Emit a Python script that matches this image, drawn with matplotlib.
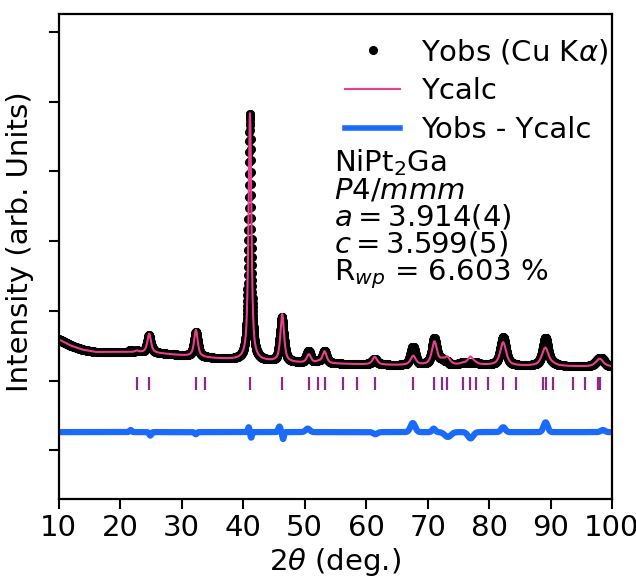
import numpy as np
from matplotlib import pyplot as plt

# reflection positions (2theta, deg) for NiPt2Ga, P4/mmm
refl_pos = [22.70, 24.72, 32.32, 33.81, 41.11, 46.36, 50.69, 52.22, 53.24,
            56.22, 58.60, 61.41, 67.66, 71.12, 72.37, 73.22, 75.75, 76.97,
            77.80, 79.90, 82.30, 84.38, 88.82, 89.20, 90.40, 93.66, 95.66,
            97.70, 98.10]
# calculated peak heights above background
refl_height = [0.02, 0.27, 0.38, 0.00, 3.55, 0.68, 0.12, 0.02, 0.17,
               0.00, 0.00, 0.11, 0.13, 0.33, 0.05, 0.10, 0.02, 0.11,
               0.02, 0.00, 0.33, 0.00, 0.05, 0.22, 0.02, 0.00, 0.00,
               0.04, 0.08]
# peak widths (FWHM, deg)
refl_fwhm = [0.70, 0.70, 0.70, 0.70, 0.55, 0.70, 0.80, 0.80, 0.80,
             0.85, 0.85, 0.90, 1.00, 1.00, 1.00, 1.00, 1.05, 1.05,
             1.05, 1.10, 1.15, 1.15, 1.20, 1.20, 1.20, 1.25, 1.25,
             1.30, 1.30]

# background
bg_x = [10, 12, 14, 16, 20, 25, 30, 35, 40, 45, 50, 55, 60, 65, 70, 75,
        80, 85, 90, 95, 100]
bg_y = [1.59, 1.50, 1.44, 1.41, 1.41, 1.40, 1.36, 1.32, 1.29, 1.27, 1.25,
        1.24, 1.23, 1.22, 1.22, 1.22, 1.22, 1.21, 1.21, 1.20, 1.20]

# difference curve features (position, amplitude, width)
diff_base = 0.26
diff_pos = [21.7, 24.9, 32.3, 40.9, 41.3, 45.9, 46.5, 50.5, 61.5, 67.6,
            71.0, 73.3, 77.0, 82.3, 89.2, 98.5]
diff_amp = [0.03, -0.05, -0.03, 0.07, -0.08, 0.08, -0.10, 0.05, -0.03,
            0.13, 0.05, -0.07, -0.09, 0.07, 0.14, 0.03]
diff_wid = [0.4, 0.4, 0.4, 0.3, 0.3, 0.4, 0.3, 0.8, 0.8, 0.9, 0.6, 1.2,
            1.0, 0.8, 0.8, 0.8]

# tick marks for the reflections
tick_top = 1.05
tick_bot = 0.86


def pvoigt(x, x0, h, w, eta=0.7):
    # pseudo-Voigt peak
    lor = 1.0 / (1.0 + ((x - x0) / (w / 2.0)) ** 2)
    gau = np.exp(-4 * np.log(2) * ((x - x0) / w) ** 2)
    return h * (eta * lor + (1 - eta) * gau)


tt = np.arange(10, 100.001, 0.02)
ycalc = np.interp(tt, bg_x, bg_y)
for p, h, w in zip(refl_pos, refl_height, refl_fwhm):
    ycalc = ycalc + pvoigt(tt, p, h, w)

ydiff = np.full_like(tt, diff_base)
for p, a, w in zip(diff_pos, diff_amp, diff_wid):
    ydiff = ydiff + a * np.exp(-4 * np.log(2) * ((tt - p) / w) ** 2)

yobs = ycalc + (ydiff - diff_base)

fs = 21
fig = plt.figure(figsize=(6.36, 5.77), dpi=100)
ax = fig.add_axes([58.7 / 636, 1 - 499 / 577, (612 - 58.7) / 636, (499 - 14) / 577])

ax.plot(tt, yobs, "o", color="black", markersize=5.5, label=r"Yobs (Cu K$\alpha$)")
ax.plot(tt, ycalc, "-", color="#e8408c", lw=1.5, label="Ycalc")
ax.plot(tt, ydiff, "-", color="#1a6aff", lw=4.5, label="Yobs - Ycalc")
ax.vlines(refl_pos, tick_bot, tick_top, color="#8b2a8b", lw=1.6)

ax.set_xlim(10, 100)
ax.set_ylim(-0.70, 6.26)
ax.set_xticks(np.arange(10, 101, 10))
ax.set_yticks(np.arange(0, 7, 1))
ax.set_yticklabels([])
ax.tick_params(direction="out", length=7, width=1.5, labelsize=fs, pad=4)
for s in ax.spines.values():
    s.set_linewidth(1.6)

ax.set_xlabel(r"2$\theta$ (deg.)", fontsize=fs, labelpad=3)
ax.set_ylabel("Intensity (arb. Units)", fontsize=fs)
ax.yaxis.set_label_coords(-0.044, 0.53)

leg = ax.legend(loc="upper right", bbox_to_anchor=(1.035, 1.0), frameon=False,
                fontsize=fs, handlelength=1.9, handletextpad=0.7,
                labelspacing=0.37, borderpad=0.3)
leg.legend_handles[2].set_linewidth(4)

info = ("NiPt$_2$Ga\n$P4/mmm$\n$a = 3.914(4)$\n$c = 3.599(5)$\n"
        "R$_{wp}$ = 6.603 %")
ax.text(0.497, 0.725, info, transform=ax.transAxes, fontsize=fs,
        va="top", ha="left", linespacing=0.92)

fig.savefig("out.png", dpi=100)
